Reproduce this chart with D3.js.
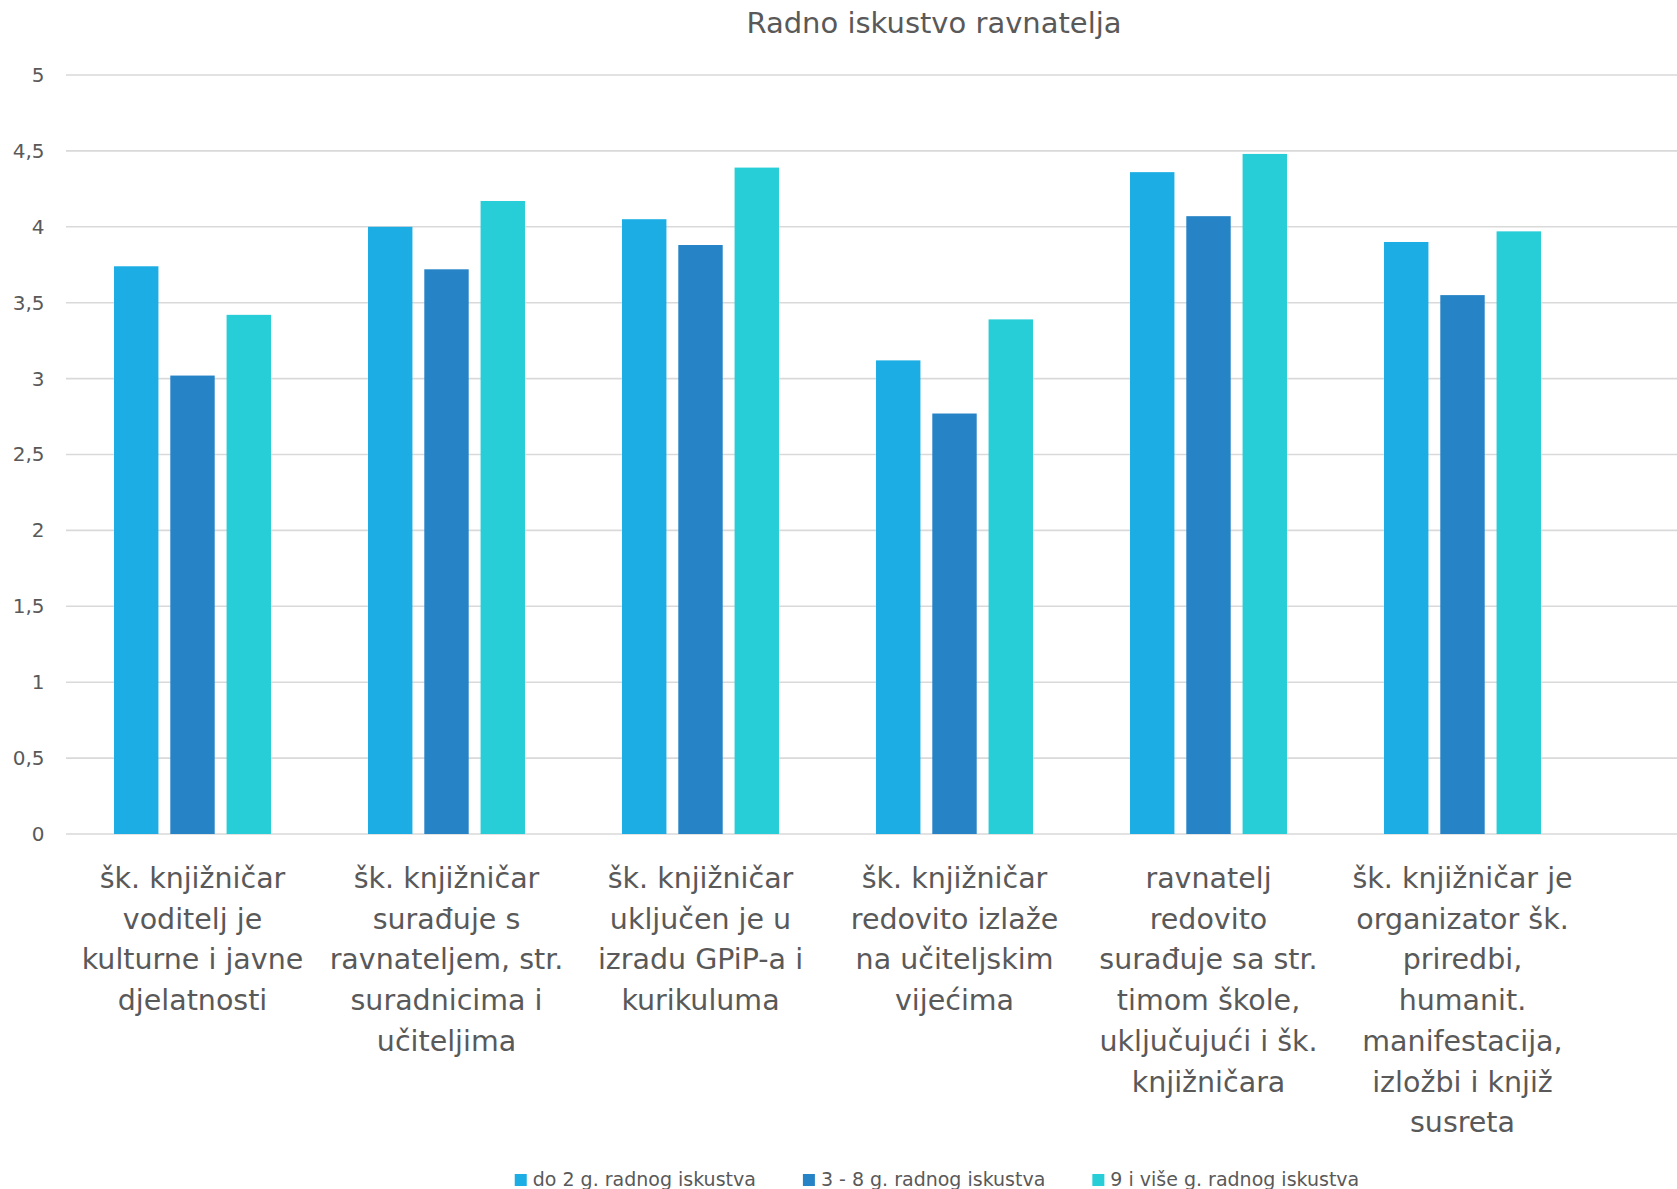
<!DOCTYPE html>
<html>
<head>
<meta charset="utf-8">
<script src="https://cdn.jsdelivr.net/npm/d3@7"></script>
<style>
  html, body { margin: 0; padding: 0; background: #ffffff; }
  svg { display: block; }
  text { font-family: "DejaVu Sans", sans-serif; fill: #595959; }
</style>
</head>
<body>
<svg id="chart" width="1677" height="1189"></svg>
<script>
// ---- data ----
const categories = [
  ["šk. knjižničar", "voditelj je", "kulturne i javne", "djelatnosti"],
  ["šk. knjižničar", "surađuje s", "ravnateljem, str.", "suradnicima i", "učiteljima"],
  ["šk. knjižničar", "uključen je u", "izradu GPiP-a i", "kurikuluma"],
  ["šk. knjižničar", "redovito izlaže", "na učiteljskim", "vijećima"],
  ["ravnatelj", "redovito", "surađuje sa str.", "timom škole,", "uključujući i šk.", "knjižničara"],
  ["šk. knjižničar je", "organizator šk.", "priredbi,", "humanit.", "manifestacija,", "izložbi i knjiž", "susreta"]
];
const seriesNames = ["do 2 g. radnog iskustva", "3 - 8 g. radnog iskustva", "9 i više g. radnog iskustva"];
const seriesDo2 = [3.74, 4.00, 4.05, 3.12, 4.36, 3.90];
const series3do8 = [3.02, 3.72, 3.88, 2.77, 4.07, 3.55];
const series9plus = [3.42, 4.17, 4.39, 3.39, 4.48, 3.97];
const yTicks = [0, 0.5, 1, 1.5, 2, 2.5, 3, 3.5, 4, 4.5, 5];
const colors = ["#1CADE4", "#2683C6", "#27CED7"];
const title = "Radno iskustvo ravnatelja";

// ---- layout ----
const W = 1677, H = 1189;
const svg = d3.select("#chart");
const seriesValues = [seriesDo2, series3do8, series9plus];
const catIdx = d3.range(categories.length);

const x0 = d3.scaleBand().domain(catIdx).range([65.5, 65.5 + 254 * 6]).paddingInner(0).paddingOuter(0);
const groupW = x0.bandwidth() * 0.618;
const x1 = d3.scaleBand().domain(d3.range(seriesNames.length))
  .range([(x0.bandwidth() - groupW) / 2, (x0.bandwidth() + groupW) / 2])
  .paddingInner(0.211).paddingOuter(0);
const y = d3.scaleLinear().domain([0, 5]).range([834, 75]);

const locale = d3.formatLocale({decimal: ",", thousands: ".", grouping: [3], currency: ["", " kn"]});
const fmt = locale.format("~g");

// gridlines
svg.append("g").selectAll("line").data(yTicks).join("line")
  .attr("x1", 66).attr("x2", W)
  .attr("y1", d => y(d)).attr("y2", d => y(d))
  .attr("stroke", "#D9D9D9").attr("stroke-width", 1.6);

// y axis labels
const yAxis = d3.axisLeft(y).tickValues(yTicks).tickFormat(fmt).tickSize(0).tickPadding(0);
const gy = svg.append("g").attr("transform", "translate(44.5,0)").call(yAxis);
gy.select(".domain").remove();
gy.selectAll("text").attr("font-size", 20).attr("fill", "#595959")
  .style("font-family", "DejaVu Sans, sans-serif");

// bars
const groups = svg.append("g").selectAll("g").data(catIdx).join("g")
  .attr("transform", i => `translate(${x0(i)},0)`);
groups.selectAll("rect")
  .data(i => seriesValues.map((s, k) => ({k, v: s[i]})))
  .join("rect")
  .attr("x", d => x1(d.k))
  .attr("width", x1.bandwidth())
  .attr("y", d => y(d.v))
  .attr("height", d => y(0) - y(d.v))
  .attr("fill", d => colors[d.k]);

// category labels
const catG = svg.append("g");
catIdx.forEach(i => {
  const t = catG.append("text")
    .attr("text-anchor", "middle")
    .attr("font-size", 28.5)
    .attr("x", x0(i) + x0.bandwidth() / 2)
    .attr("y", 888);
  categories[i].forEach((line, j) => {
    t.append("tspan").attr("x", x0(i) + x0.bandwidth() / 2)
      .attr("y", 888 + j * 40.7).text(line);
  });
});

// title
svg.append("text").attr("x", 934).attr("y", 33).attr("text-anchor", "middle")
  .attr("font-size", 29).text(title);

// legend
const lg = svg.append("g");
const items = seriesNames.map((name, k) => {
  const g = lg.append("g");
  g.append("rect").attr("width", 12).attr("height", 12).attr("y", 1174).attr("fill", colors[k]);
  const t = g.append("text").attr("x", 18).attr("y", 1186).attr("font-size", 19).text(name);
  return {g, w: 18 + t.node().getComputedTextLength()};
});
const gap = 47;
const total = d3.sum(items, d => d.w) + gap * (items.length - 1);
let cx = 937 - total / 2;
items.forEach(it => { it.g.attr("transform", `translate(${cx},0)`); cx += it.w + gap; });
</script>
</body>
</html>
